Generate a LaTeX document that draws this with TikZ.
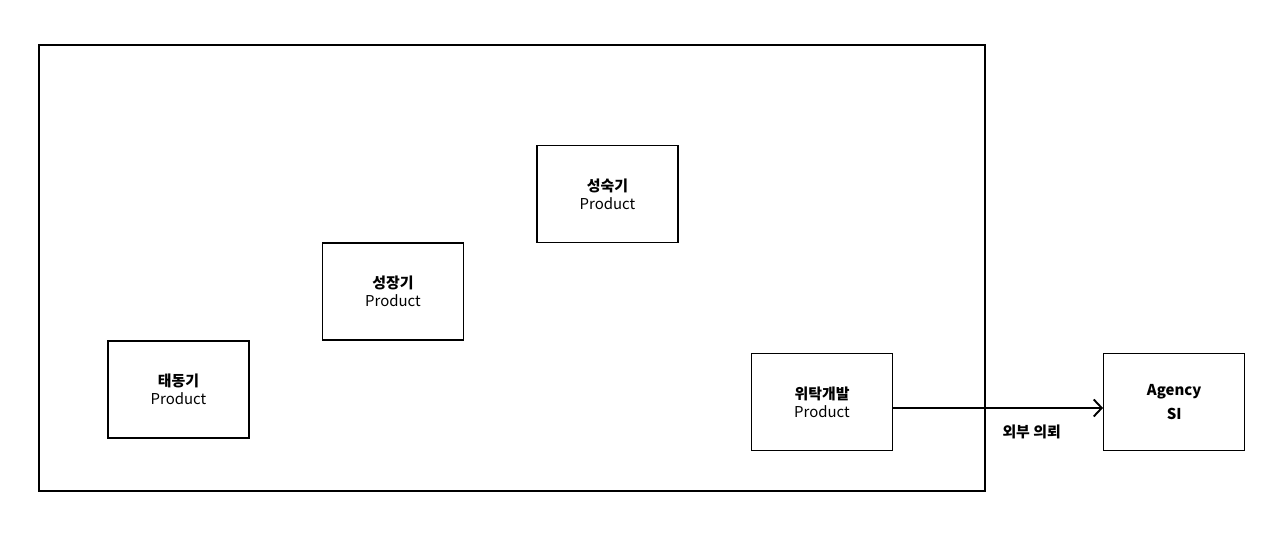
\documentclass[tikz,border=0pt]{standalone}
\usepackage{fontspec}
\setmainfont{Noto Sans CJK KR}
\usepackage{tikz}
\usetikzlibrary{arrows.meta,positioning}

\begin{document}
\begin{tikzpicture}[
  x=0.02cm, y=0.02cm,
  font=\fontsize{8.5}{10.2}\selectfont,
  stagebox/.style={rectangle,draw,line width=0.7pt,align=center,minimum width=2.82cm,minimum height=1.94cm,inner sep=0pt},
  frame/.style={rectangle,draw,line width=0.7pt,minimum width=18.92cm,minimum height=8.92cm},
  lbl/.style={font=\fontsize{8.5}{10.2}\selectfont\bfseries,inner sep=0pt},
  >={Straight Barb[length=1.6mm,width=3.4mm]}
]
\useasboundingbox (0,0) rectangle (1280,543);
\node[frame] (inhouse) at (512,275) {};

\node[stagebox] (intro) at (178.5,153.5) {\textbf{태동기}\\Product};
\node[stagebox] (growth) at (393,251.5) {\textbf{성장기}\\Product};
\node[stagebox] (mature) at (607.5,349) {\textbf{성숙기}\\Product};
\node[stagebox] (outsrc) at (822,141) {\textbf{위탁개발}\\Product};
\node[stagebox,right=4.2cm of outsrc,font=\fontsize{8.5}{10.2}\selectfont\bfseries] (agency) {Agency\\[3.4pt]SI};

\draw[->,line width=1.1pt] ([yshift=-0.12cm]outsrc.east) -- node[lbl,pos=0.66,below=3.2mm] (req) {외부 의뢰} ([yshift=-0.12cm]agency.west);
\end{tikzpicture}
\end{document}
